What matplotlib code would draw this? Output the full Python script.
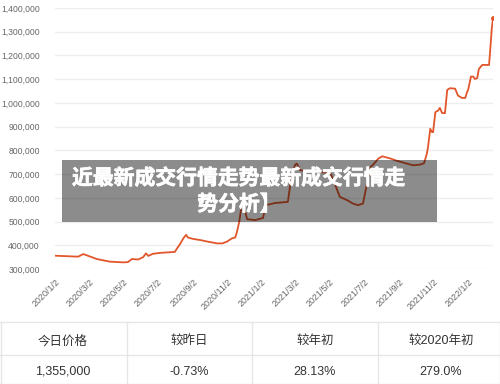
import matplotlib
matplotlib.use('Agg')
import matplotlib.pyplot as plt
import matplotlib.patheffects as pe
from matplotlib.patches import Rectangle
from matplotlib.lines import Line2D
import pandas as pd

plt.rcParams['font.family'] = ['Liberation Sans', 'Noto Sans CJK SC', 'DejaVu Sans']

# Datos (fecha, precio)
fechas = ['2020-01-02', '2020-02-12', '2020-02-21', '2020-03-16', '2020-04-08',
          '2020-05-01', '2020-05-10', '2020-05-17', '2020-05-28', '2020-06-06',
          '2020-06-11', '2020-06-15', '2020-06-23', '2020-07-06', '2020-08-01',
          '2020-08-05', '2020-08-10', '2020-08-16', '2020-08-21', '2020-08-24',
          '2020-09-02', '2020-09-15', '2020-09-29', '2020-10-15', '2020-10-24',
          '2020-11-01', '2020-11-10', '2020-11-16', '2020-11-19', '2020-11-23',
          '2020-11-26', '2020-11-30', '2020-12-03', '2020-12-07', '2020-12-21',
          '2021-01-04', '2021-01-09', '2021-01-25', '2021-02-17', '2021-02-24',
          '2021-03-02', '2021-03-05', '2021-03-11', '2021-03-28', '2021-05-03',
          '2021-05-12', '2021-05-20', '2021-06-02', '2021-06-12', '2021-06-21',
          '2021-06-30', '2021-07-07', '2021-07-13', '2021-07-18', '2021-07-27',
          '2021-08-03', '2021-08-17', '2021-08-29', '2021-09-16', '2021-09-27',
          '2021-10-09', '2021-10-16', '2021-10-21', '2021-10-23', '2021-10-27',
          '2021-10-30', '2021-11-01', '2021-11-05', '2021-11-10', '2021-11-13',
          '2021-11-17', '2021-11-22', '2021-11-26', '2021-12-01', '2021-12-10',
          '2021-12-15', '2021-12-22', '2021-12-28', '2021-12-31', '2022-01-02',
          '2022-01-07', '2022-01-11', '2022-01-14', '2022-01-18', '2022-01-21',
          '2022-01-27', '2022-02-08', '2022-02-10', '2022-02-13', '2022-02-15']
precios = [356000, 352000, 363000, 342000, 331000,
           328000, 329000, 342000, 340000, 350000,
           366000, 355000, 364000, 368000, 372000,
           387000, 404000, 429000, 444000, 433000,
           427000, 422000, 415000, 408000, 408000,
           415000, 429000, 433000, 457000, 499000,
           548000, 551000, 545000, 510000, 506000,
           515000, 569000, 578000, 583000, 700000,
           740000, 744000, 716000, 712000, 705000,
           653000, 604000, 590000, 576000, 569000,
           576000, 660000, 730000, 740000, 765000,
           775000, 766000, 756000, 744000, 737000,
           740000, 746000, 786000, 814000, 891000,
           877000, 877000, 961000, 968000, 979000,
           957000, 957000, 1055000, 1062000, 1060000,
           1031000, 1021000, 1021000, 1045000, 1055000,
           1111000, 1111000, 1101000, 1104000, 1143000,
           1160000, 1160000, 1220000, 1318000, 1357000]

ticks_x = ['2020-01-02', '2020-03-02', '2020-05-02', '2020-07-02', '2020-09-02',
           '2020-11-02', '2021-01-02', '2021-03-02', '2021-05-02', '2021-07-02',
           '2021-09-02', '2021-11-02', '2022-01-02']
etiquetas_x = ['2020/1/2', '2020/3/2', '2020/5/2', '2020/7/2', '2020/9/2',
               '2020/11/2', '2021/1/2', '2021/3/2', '2021/5/2', '2021/7/2',
               '2021/9/2', '2021/11/2', '2022/1/2']
ticks_y = [300000, 400000, 500000, 600000, 700000, 800000, 900000,
           1000000, 1100000, 1200000, 1300000, 1400000]

titulo = '近最新成交行情走势最新成交行情走\n势分析】'

cabeceras = ['今日价格', '较昨日', '较年初', '较2020年初']
valores = ['1,355,000', '-0.73%', '28.13%', '279.0%']

W, H = 500, 384
fig = plt.figure(figsize=(W / 100, H / 100), dpi=100)
ax = fig.add_axes([55 / W, 1 - 269 / H, 438 / W, 261 / H])

x = pd.to_datetime(fechas)
ax.plot(x, precios, color='#e2562b', lw=1.3, zorder=3)
ax.plot(x[-1:], precios[-1:], 'o', color='#e2562b', ms=2.5, zorder=3)

ax.set_ylim(300000, 1400000)
ax.set_xlim(pd.Timestamp('2020-01-02'), pd.Timestamp('2022-02-15'))
ax.set_yticks(ticks_y)
ax.set_yticklabels([f'{v:,}' for v in ticks_y], fontsize=6.2, color='#666666')
ax.set_xticks(pd.to_datetime(ticks_x))
ax.set_xticklabels(etiquetas_x, fontsize=6.5, color='#666666', rotation=45,
                   ha='right', rotation_mode='anchor')
ax.tick_params(axis='both', length=0)
ax.tick_params(axis='y', pad=11)
ax.tick_params(axis='x', pad=6)
ax.grid(axis='y', color='#eeeeee', lw=1)
ax.set_axisbelow(True)
for s in ax.spines.values():
    s.set_visible(False)

# Cuadro gris semitransparente con el titulo
fig.add_artist(Rectangle((62 / W, 1 - 222 / H), 375 / W, 62 / H,
                         transform=fig.transFigure, color='black', alpha=0.45,
                         lw=0, zorder=10))
fig.text(239 / W, 1 - 191 / H, titulo, ha='center', va='center', color='white',
         fontsize=15, fontweight='bold', linespacing=1.3, zorder=11,
         family=['Noto Sans CJK SC', 'DejaVu Sans'],
         path_effects=[pe.withStroke(linewidth=0.5, foreground='white')])

# Tabla inferior
gris = '#e6e6e6'
for yy in [322, 355, 383.5]:
    fig.add_artist(Line2D([0, 1], [1 - yy / H] * 2, transform=fig.transFigure,
                          color=gris, lw=1))
for xx in [0.5, 127, 252, 378, 499.5]:
    fig.add_artist(Line2D([xx / W] * 2, [1 - 322 / H, 0], transform=fig.transFigure,
                          color=gris, lw=1))
centros = [63, 189, 315, 441]
for cx, c, v in zip(centros, cabeceras, valores):
    fig.text(cx / W, 1 - 341 / H, c, ha='center', va='center', fontsize=9,
             color='#333333')
    fig.text(cx / W, 1 - 372 / H, v, ha='center', va='center', fontsize=9,
             color='#333333')

fig.savefig('out.png', dpi=100)
